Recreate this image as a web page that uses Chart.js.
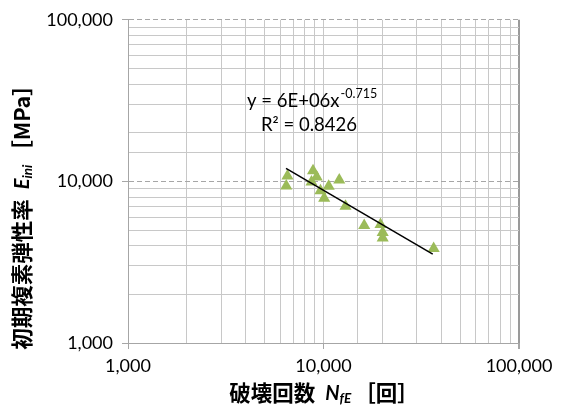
<!DOCTYPE html>
<html>
<head>
<meta charset="utf-8">
<script src="https://cdn.jsdelivr.net/npm/chart.js@4"></script>
<style>
  body { margin: 0; background: #fff; }
  canvas { display: block; }
</style>
</head>
<body>
<canvas id="myChart" width="561" height="414"></canvas>
<script>
// cycles to failure N_fE and initial complex modulus E_ini (MPa)
const cycles = [6540, 6450, 8840, 9230, 8680, 10630, 9650, 10080, 12040, 12960, 16150, 19570, 20080, 20080, 36600]
const modulus = [10800, 9360, 11630, 10660, 9930, 9320, 8750, 7860, 10190, 7020, 5330, 5410, 4820, 4470, 3850]
// power trendline end points
const trendX = [6430, 36200]
const trendY = [12050, 3550]
const xTicks = [1000, 10000, 100000]
const yTicks = [1000, 10000, 100000]
const eqText = 'y = 6E+06x'
const eqPower = '-0.715'
const r2Text = 'R² = 0.8426'

const ctx = document.getElementById('myChart')
const latin = 'Lato, "Open Sans", sans-serif'
const cjk = '"Noto Sans CJK JP", sans-serif'
const gridGray = '#c8c8c8'
const axisGray = '#a6a6a6'

function fmt(v) {
    return v.toLocaleString('en-US')
}

function drawRuns(c, runs, x, y) {
    let total = 0
    runs.forEach(r => { c.font = r.font; total += c.measureText(r.text).width + (r.gap || 0) })
    let cx = x - total / 2
    runs.forEach(r => {
        c.font = r.font
        c.fillText(r.text, cx, y + (r.dy || 0))
        cx += c.measureText(r.text).width + (r.gap || 0)
    })
}

const labelPlugin = {
    id: 'labels',
    afterDraw(chart) {
        const c = chart.ctx
        c.save()
        c.fillStyle = '#000'
        c.textAlign = 'left'
        c.textBaseline = 'alphabetic'

        // trendline equation
        c.font = '18.5px ' + latin
        c.fillText(eqText, 247, 107)
        const w = c.measureText(eqText).width
        c.font = '12.5px ' + latin
        c.fillText(eqPower, 247 + w + 1, 98)
        c.font = '18.5px ' + latin
        c.fillText(r2Text, 261, 131)

        // x title
        c.textBaseline = 'middle'
        drawRuns(c, [
            { text: '破壊回数', font: 'bold 21.5px ' + cjk, gap: 10 },
            { text: 'N', font: 'italic bold 20px ' + latin, dy: 1 },
            { text: 'fE', font: 'italic bold 13.5px ' + latin, dy: 6, gap: 3 },
            { text: '［回］', font: 'bold 21.5px ' + cjk }
        ], 324, 393)

        // y title
        c.translate(22, 212)
        c.rotate(-Math.PI / 2)
        drawRuns(c, [
            { text: '初期複素弾性率', font: 'bold 21.5px ' + cjk, gap: 10 },
            { text: 'E', font: 'italic bold 20px ' + latin, dy: 1 },
            { text: 'ini', font: 'italic bold 13.5px ' + latin, dy: 6, gap: 3 },
            { text: '［MPa］', font: 'bold 21.5px ' + cjk }
        ], 0, 0)
        c.restore()
    }
}

new Chart(ctx, {
    type: 'scatter',
    data: {
        datasets: [
            {
                type: 'line',
                data: trendX.map((x, i) => ({ x: x, y: trendY[i] })),
                borderColor: '#000',
                borderWidth: 1.5,
                pointRadius: 0,
                fill: false,
                tension: 0
            },
            {
                data: cycles.map((x, i) => ({ x: x, y: modulus[i] })),
                pointStyle: 'triangle',
                pointRadius: 7,
                backgroundColor: '#9bbb59',
                borderColor: '#9bbb59',
                borderWidth: 0
            }
        ]
    },
    options: {
        responsive: false,
        animation: false,
        layout: { padding: { top: 17, right: 42, left: 0, bottom: 0 } },
        plugins: { legend: { display: false }, tooltip: { enabled: false } },
        scales: {
            x: {
                type: 'logarithmic',
                min: 1000,
                max: 100000,
                afterFit: s => { s.height = 71 },
                ticks: {
                    autoSkip: false,
                    maxRotation: 0,
                    padding: 6,
                    color: '#000',
                    font: { family: latin, size: 18 },
                    callback: v => xTicks.includes(v) ? fmt(v) : ''
                },
                grid: {
                    color: c => c.tick && c.tick.value === 100000 ? '#9a9a9a' : gridGray,
                    lineWidth: c => c.tick && c.tick.value === 100000 ? 2 : 1,
                    tickLength: 6,
                    tickColor: c => c.tick && xTicks.includes(c.tick.value) ? axisGray : 'rgba(0,0,0,0)'
                },
                border: { color: axisGray }
            },
            y: {
                type: 'logarithmic',
                min: 1000,
                max: 100000,
                afterFit: s => { s.width = 128 },
                ticks: {
                    autoSkip: false,
                    padding: 9,
                    color: '#000',
                    font: { family: latin, size: 18 },
                    callback: v => yTicks.includes(v) ? fmt(v) : ''
                },
                grid: {
                    color: c => c.tick && yTicks.includes(c.tick.value) ? axisGray : gridGray,
                    tickLength: 6,
                    tickColor: c => c.tick && yTicks.includes(c.tick.value) ? axisGray : 'rgba(0,0,0,0)'
                },
                border: {
                    color: axisGray,
                    dash: c => c.tick && c.tick.value > 1000 && yTicks.includes(c.tick.value) ? [5, 3] : []
                }
            }
        }
    },
    plugins: [labelPlugin]
})
</script>
</body>
</html>
